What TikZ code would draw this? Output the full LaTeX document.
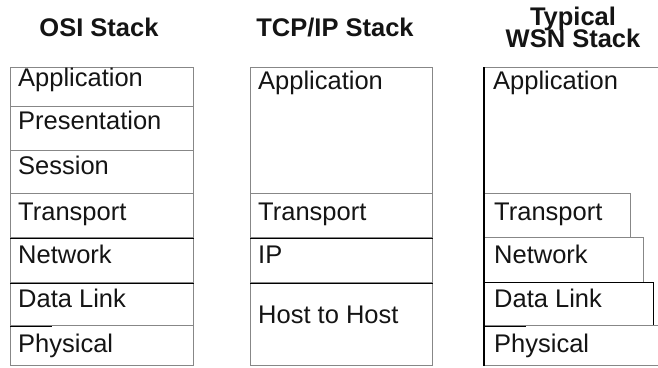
\documentclass[tikz,border=0pt]{standalone}
\usepackage{fontspec}
\setmainfont{Liberation Sans}
\definecolor{edge}{RGB}{135,135,135}
\definecolor{ink}{RGB}{20,20,20}
\begin{document}
\begin{tikzpicture}[x=1pt,y=-1pt,
  layer/.style={draw=edge, line width=1.4pt, inner sep=0pt, anchor=north west},
  lbl/.style={anchor=base west, inner sep=0pt, text=ink, font=\fontsize{25.5}{28}\selectfont},
  ttl/.style={anchor=base, inner sep=0pt, text=ink, font=\fontsize{25.5}{28}\selectfont\bfseries},
  sep/.style={draw=black, line width=1.1pt}]
\useasboundingbox (0,0) rectangle (658,367);
\clip (0,0) rectangle (658,367);
% titles
\node[ttl] (tosi) at (99,36) {OSI Stack};
\node[ttl] (ttcp) at (335,36) {TCP/IP Stack};
\node[ttl, anchor=south, align=center, font=\fontsize{25.5}{21.5}\selectfont\bfseries] (twsn) at (573,48) {Typical\\[-3.2pt]WSN Stack};
% OSI stack
\node[layer, minimum width=183pt, minimum height=39pt] (osiapp) at (10,67) {};
\node[layer, minimum width=183pt, minimum height=44pt] (osipre) at (10,106) {};
\node[layer, minimum width=183pt, minimum height=43pt] (osises) at (10,150) {};
\node[layer, minimum width=183pt, minimum height=44pt] (ositra) at (10,193) {};
\node[layer, minimum width=183pt, minimum height=45pt] (osinet) at (10,237) {};
\node[layer, minimum width=183pt, minimum height=43pt] (osidl) at (10,282) {};
\node[layer, minimum width=183pt, minimum height=40pt] (osiphy) at (10,325) {};
\draw[sep] (ositra.south west) -- (ositra.south east);
\draw[sep] (osinet.south west) -- (osinet.south east);
\draw[sep] (osidl.south west) -- ++(42,0);
\node[lbl] (losiapp) at (18,86) {Application};
\node[lbl] (losipre) at (18,129) {Presentation};
\node[lbl] (losises) at (18,174) {Session};
\node[lbl] (lositra) at (18,220) {Transport};
\node[lbl] (losinet) at (18,263) {Network};
\node[lbl] (losidl) at (18,307) {Data Link};
\node[lbl] (losiphy) at (18,352) {Physical};
% TCP/IP stack
\node[layer, minimum width=182pt, minimum height=126pt] (tcpapp) at (250,67) {};
\node[layer, minimum width=182pt, minimum height=44pt] (tcptra) at (250,193) {};
\node[layer, minimum width=182pt, minimum height=45pt] (tcpip) at (250,237) {};
\node[layer, minimum width=182pt, minimum height=83pt] (tcphost) at (250,282) {};
\draw[sep] (tcptra.south west) -- (tcptra.south east);
\draw[sep] (tcpip.south west) -- (tcpip.south east);
\node[lbl] (ltcpapp) at (258,89) {Application};
\node[lbl] (ltcptra) at (258,220) {Transport};
\node[lbl] (ltcpip) at (258,263) {IP};
\node[lbl] (ltcphost) at (258,323) {Host to Host};
% WSN stack
\node[layer, minimum width=220pt, minimum height=298pt] (wsnapp) at (484,67) {};
\node[layer, fill=white, minimum width=146pt, minimum height=44pt] (wsntra) at (484,193) {};
\node[layer, fill=white, minimum width=159pt, minimum height=45pt] (wsnnet) at (484,237) {};
\node[layer, fill=white, draw=black, line width=1.1pt, minimum width=169pt, minimum height=43pt] (wsndl) at (484,282) {};
\node[layer, fill=white, minimum width=220pt, minimum height=40pt] (wsnphy) at (484,325) {};
\draw[sep] (wsnapp.north west) -- (wsnapp.south west);
\draw[sep] (wsndl.south west) -- ++(42,0);
\node[lbl] (lwsnapp) at (493,89) {Application};
\node[lbl] (lwsntra) at (494,220) {Transport};
\node[lbl] (lwsnnet) at (494,263) {Network};
\node[lbl] (lwsndl) at (494,307) {Data Link};
\node[lbl] (lwsnphy) at (494,352) {Physical};
\end{tikzpicture}
\end{document}
